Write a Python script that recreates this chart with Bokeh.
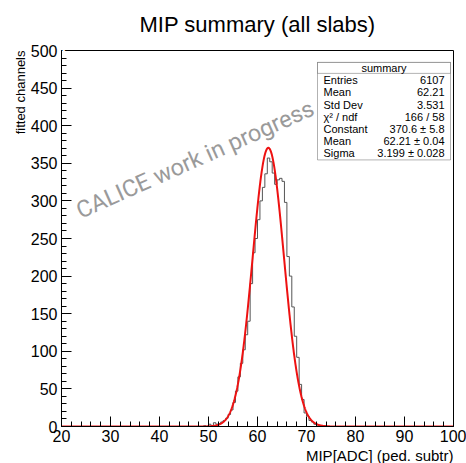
import numpy as np
from bokeh.plotting import figure
from bokeh.models import Label, BoxAnnotation, SingleIntervalTicker, Range1d, Title
from bokeh.embed import file_html
from bokeh.resources import INLINE

# ---------------- data ----------------
x_min, x_max = 20, 100
y_min, y_max = 0, 500
hist_start = 48.0
bin_width = 0.5
counts = [0, 0, 1, 0, 3, 1, 5, 3, 4, 6,
          8, 11, 16, 22, 32, 47, 66, 84, 102, 122,
          140, 190, 231, 250, 275, 300, 318, 336, 357, 352,
          337, 322, 328, 330, 326, 298, 226, 200, 159, 120,
          92, 56, 36, 18, 14, 8, 6, 3, 2, 1,
          0, 1, 0]
fit_constant = 370.6
fit_mean = 62.21
fit_sigma = 3.199

stats_names = ["Entries", "Mean", "Std Dev", "χ² / ndf", "Constant", "Mean", "Sigma"]
stats_values = ["6107", "62.21", "3.531", "166 / 58", "370.6 ± 5.8", "62.21 ± 0.04", "3.199 ± 0.028"]

title_text = "MIP summary (all slabs)"
x_title = "MIP[ADC] (ped. subtr)"
y_title = "fitted channels"
watermark = "CALICE work in progress"

# ---------------- layout helpers ----------------
W, H = 466, 463
FL, FR, FT, FB = 61, 453, 50, 428
XS = (FR - FL) / (x_max - x_min)
YS = (FB - FT) / (y_max - y_min)


def px2x(px):
    return x_min + (px - FL) / XS


def py2y(py):
    return y_min + (FB - py) / YS


FONT = "Liberation Sans"

p = figure(width=W, height=H, output_backend="svg", toolbar_location=None,
           x_range=Range1d(x_min, x_max), y_range=Range1d(y_min, y_max),
           min_border_left=FL, min_border_right=W - FR,
           min_border_top=FT, min_border_bottom=H - FB)
p.title.visible = False
p.background_fill_color = "white"
p.border_fill_color = "white"
p.grid.visible = False
p.outline_line_color = "black"
p.outline_line_width = 1

# white (invisible on white) spacer panel between frame and main title, then the main title
p.add_layout(Title(text=".", standoff=0, text_font=FONT, text_font_size="16px",
                   text_color="white"), "above")
p.add_layout(Title(text=title_text, align="center", standoff=0, text_font=FONT,
                   text_font_size="22px", text_font_style="normal", text_color="black"), "above")

p.xaxis.ticker = SingleIntervalTicker(interval=10, num_minor_ticks=5)
p.yaxis.ticker = SingleIntervalTicker(interval=50, num_minor_ticks=5)
for ax in (p.xaxis[0], p.yaxis[0]):
    ax.major_tick_in = 10
    ax.major_tick_out = 0
    ax.minor_tick_in = 5
    ax.minor_tick_out = 0
    ax.axis_line_color = "black"
    ax.major_tick_line_color = "black"
    ax.minor_tick_line_color = "black"
    ax.major_label_text_font = FONT
    ax.major_label_text_font_size = "16px"
    ax.major_label_text_color = "black"
p.xaxis.major_label_standoff = 3
p.yaxis.major_label_standoff = 4

# axis titles as side titles, right/top aligned like ROOT
p.add_layout(Title(text=x_title, align="right", standoff=0, text_font=FONT,
                   text_font_size="15px", text_font_style="normal", text_color="black"), "below")
p.add_layout(Title(text=y_title, align="right", standoff=0, text_font=FONT,
                   text_font_size="13px", text_font_style="normal", text_color="black"), "left")

# watermark (behind data)
p.add_layout(Label(x=px2x(77), y=py2y(212), text=watermark, angle=np.deg2rad(24),
                   text_font="Roboto", text_font_size="23.5px", text_color="#9a9a9a",
                   text_align="left", text_baseline="alphabetic"))

# histogram as step outline over the full axis range
n_bins = int(round((x_max - x_min) / bin_width))
full = np.zeros(n_bins)
off = int(round((hist_start - x_min) / bin_width))
full[off:off + len(counts)] = counts
edges = x_min + bin_width * np.arange(n_bins + 1)
ys = np.append(full, full[-1])
p.step(edges, ys, mode="after", line_color="#555555", line_width=1)

# gaussian fit curve
xf = np.linspace(x_min, x_max, 2001)
yf = fit_constant * np.exp(-0.5 * ((xf - fit_mean) / fit_sigma) ** 2)
p.line(xf, yf, line_color="#ee1111", line_width=2)

# stats box
bx_l, bx_r, bx_t, bx_b, bx_h = 317, 450, 62, 160, 73
p.add_layout(BoxAnnotation(left=px2x(bx_l), right=px2x(bx_r), top=py2y(bx_t), bottom=py2y(bx_b),
                           fill_color="white", fill_alpha=1.0, line_color="black", line_width=1))
p.add_layout(BoxAnnotation(left=px2x(bx_l), right=px2x(bx_r), top=py2y(bx_t), bottom=py2y(bx_h),
                           fill_color="white", fill_alpha=1.0, line_color="black", line_width=1))
p.add_layout(Label(x=px2x((bx_l + bx_r) / 2), y=py2y((bx_t + bx_h) / 2), text="summary",
                   text_font=FONT, text_font_size="11px", text_color="black",
                   text_align="center", text_baseline="middle"))
row0, dy = 80, 12.2
for i, (nm, vl) in enumerate(zip(stats_names, stats_values)):
    yy = py2y(row0 + i * dy)
    p.add_layout(Label(x=px2x(323), y=yy, text=nm, text_font=FONT, text_font_size="11px",
                       text_color="black", text_align="left", text_baseline="middle"))
    p.add_layout(Label(x=px2x(444), y=yy, text=vl, text_font=FONT, text_font_size="11px",
                       text_color="black", text_align="right", text_baseline="middle"))

open("out.html", "w").write(file_html(p, INLINE))
